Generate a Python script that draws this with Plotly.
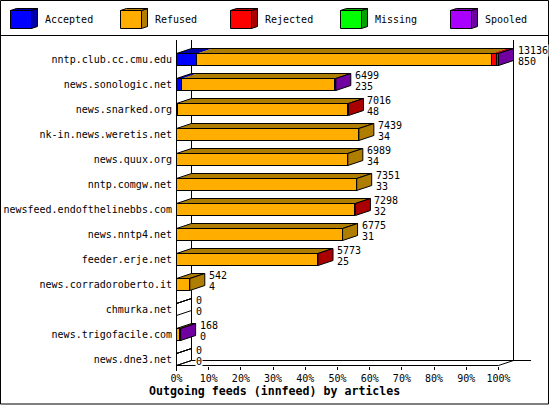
import plotly.graph_objects as go

# feeds, top to bottom
hosts = ["nntp.club.cc.cmu.edu", "news.sonologic.net", "news.snarked.org", "nk-in.news.weretis.net",
         "news.quux.org", "nntp.comgw.net", "newsfeed.endofthelinebbs.com", "news.nntp4.net",
         "feeder.erje.net", "news.corradoroberto.it", "chmurka.net", "news.trigofacile.com", "news.dne3.net"]
totals = [13136, 6499, 7016, 7439, 6989, 7351, 7298, 6775, 5773, 542, 0, 168, 0]
accepted = [850, 235, 48, 34, 34, 33, 32, 31, 25, 4, 0, 0, 0]
refused = [12030, 6224, 6960, 7405, 6955, 7318, 7250, 6744, 5738, 538, 0, 160, 0]
rejected = [190, 0, 8, 0, 0, 0, 16, 0, 10, 0, 0, 0, 0]
missing = [0, 0, 0, 0, 0, 0, 0, 0, 0, 0, 0, 0, 0]
spooled = [66, 40, 0, 0, 0, 0, 0, 0, 0, 0, 0, 8, 0]

names = ["Accepted", "Refused", "Rejected", "Missing", "Spooled"]
series = [accepted, refused, rejected, missing, spooled]
colors = ["#0000FF", "#FFAE00", "#FF0000", "#00FF00", "#AA00FF"]
darks = ["#0000A8", "#AF7D00", "#AA0000", "#00A000", "#7000A0"]
pct_ticks = [0, 10, 20, 30, 40, 50, 60, 70, 80, 90, 100]

W, H = 550, 405
LEFT, TOP, RIGHT, BOTTOM = 176, 40, 540, 366
PX_PCT = 3.22   # pixels for 1%
PX_ROW = 25
DX = 15 / PX_PCT
DY = 5 / PX_ROW
HALF = 6 / PX_ROW
FONT = "DejaVu Sans Mono"


def px_x(p):
    return (p - LEFT) / (RIGHT - LEFT)


def px_y(p):
    return 1 - (p - TOP) / (BOTTOM - TOP)


def poly(xs, ys, fill=None, line=None):
    if line:
        return go.Scatter(x=xs + xs[:1], y=ys + ys[:1], mode="lines", line=dict(color=line, width=1),
                          fill="toself" if fill else None, fillcolor=fill, hoverinfo="skip", showlegend=False)
    return go.Scatter(x=xs, y=ys, mode="none", fill="toself", fillcolor=fill, hoverinfo="skip", showlegend=False)


scale = 100 / max(totals)
rows = list(range(len(hosts)))
fig = go.Figure()

# front faces
for name, vals, col in zip(names, series, colors):
    fig.add_trace(go.Bar(y=rows, x=[v * scale for v in vals], name=name, orientation="h", width=2 * HALF,
                         marker=dict(color=col, line=dict(color="black", width=1)), showlegend=False))

y_end = (BOTTOM - 59.5) / PX_ROW
y_top = (TOP - 59.5) / PX_ROW
y_floor = (365.5 - 59.5) / PX_ROW
x_0 = -0.5 / PX_PCT
x_end = x_0 + (RIGHT - LEFT) / PX_PCT

# back floor line, nothing stands in front of it
fig.add_trace(go.Scatter(x=[DX, 110.1], y=[y_floor - DY, y_floor - DY], mode="lines", cliponaxis=False,
                         line=dict(color="black", width=1), hoverinfo="skip", showlegend=False))

# top and side faces, worked out from the same values
for r in rows:
    start = 0
    last = None
    top = r - HALF
    bot = r + HALF
    for vals, dark in zip(series, darks):
        if vals[r] > 0:
            end = start + vals[r] * scale
            fig.add_trace(poly([start, start + DX, end + DX, end], [top, top - DY, top - DY, top], fill=dark))
            start = end
            last = dark
    fig.add_trace(poly([0, DX, start + DX, start], [top, top - DY, top - DY, top], line="black"))
    fig.add_trace(poly([start, start + DX, start + DX, start], [top, top - DY, bot - DY, bot], fill=last, line="black"))

    fig.add_annotation(x=start + DX, y=r, text=str(totals[r]), xanchor="left", yanchor="middle", xshift=3, yshift=9.5,
                       showarrow=False, bgcolor="white", borderpad=0)
    fig.add_annotation(x=start + DX, y=r, text=str(accepted[r]), xanchor="left", yanchor="middle", xshift=3, yshift=-1.5,
                       showarrow=False, bgcolor="white", borderpad=0)

# front floor edge and corner ticks
fig.add_trace(go.Scatter(x=[-15 / PX_PCT, DX], y=[y_floor + DY, y_floor - DY], mode="lines", cliponaxis=False,
                         line=dict(color="black", width=1), hoverinfo="skip", showlegend=False))
fig.add_trace(go.Scatter(x=[0, 100, 100 + DX], y=[y_floor, y_floor, y_floor - DY], mode="lines", cliponaxis=False,
                         line=dict(color="black", width=1), hoverinfo="skip", showlegend=False))

shapes = []
# walls, under the bars
for x0, y0, x1, y1 in [(DX, y_top, DX, y_floor - DY), (100 + DX, y_top, 100 + DX, y_floor - DY)]:
    shapes.append(dict(type="line", xref="x", yref="y", x0=x0, y0=y0, x1=x1, y1=y1, layer="below",
                       line=dict(color="black", width=1)))
# front left wall, it goes past the plot area
shapes.append(dict(type="line", xref="paper", yref="paper", x0=px_x(176.5), y0=px_y(40), x1=px_x(176.5), y1=px_y(371),
                   layer="above", line=dict(color="black", width=1)))
# frame and legend rule
shapes.append(dict(type="rect", xref="paper", yref="paper", x0=px_x(0.5), y0=px_y(0.5), x1=px_x(548.5), y1=px_y(404),
                   line=dict(color="black", width=1)))
shapes.append(dict(type="line", xref="paper", yref="paper", x0=px_x(0), y0=px_y(35.5), x1=px_x(549), y1=px_y(35.5),
                   line=dict(color="black", width=1)))


def px_path(points):
    return "M" + "L".join(f"{px_x(a):.5f},{px_y(b):.5f}" for a, b in points) + "Z"


# legend, little cubes
for i, (name, col, dark) in enumerate(zip(names, colors, darks)):
    x = 10.5 + 110 * i
    shapes.append(dict(type="path", xref="paper", yref="paper", fillcolor=col, line=dict(color="black", width=1),
                       path=px_path([(x, 10.5), (x + 21, 10.5), (x + 21, 28.5), (x, 28.5)])))
    shapes.append(dict(type="path", xref="paper", yref="paper", fillcolor=dark, line=dict(color="black", width=1),
                       path=px_path([(x + 21, 10.5), (x + 27, 8.5), (x + 27, 26.5), (x + 21, 28.5)])))
    shapes.append(dict(type="path", xref="paper", yref="paper", fillcolor=dark, line=dict(color="black", width=1),
                       path=px_path([(x, 10.5), (x + 6, 8.5), (x + 27, 8.5), (x + 21, 10.5)])))
    fig.add_annotation(xref="paper", yref="paper", x=px_x(x + 32), y=px_y(20), text=name, xanchor="left",
                       yanchor="middle", showarrow=False)

fig.add_annotation(xref="paper", yref="paper", x=px_x(274), y=px_y(391), text="<b>Outgoing feeds (innfeed) by articles</b>",
                   xanchor="center", yanchor="middle", showarrow=False, font=dict(size=11.6))

fig.update_layout(template="none", width=W, height=H, margin=dict(l=LEFT, t=TOP, r=W - RIGHT, b=H - BOTTOM, pad=0),
                  barmode="stack", paper_bgcolor="white", plot_bgcolor="white", showlegend=False, shapes=shapes,
                  font=dict(family=FONT, size=10, color="black"), bargap=0)
fig.update_xaxes(range=[x_0, x_end], tickvals=pct_ticks, ticktext=[f"{p}%" for p in pct_ticks], ticks="outside",
                 ticklen=3, tickcolor="black", tickwidth=1, showgrid=False, zeroline=False, showline=False,
                 automargin=False)
fig.update_yaxes(range=[y_end, y_top], tickvals=rows, ticktext=hosts, ticks="", showgrid=False, zeroline=False,
                 showline=False, automargin=False, ticklabelstandoff=3)

# the page's own margin would push the chart off the window
fig.write_html("out.html", config={"displayModeBar": False},
               post_script="document.body.style.margin='0';document.documentElement.style.overflow='hidden';")
